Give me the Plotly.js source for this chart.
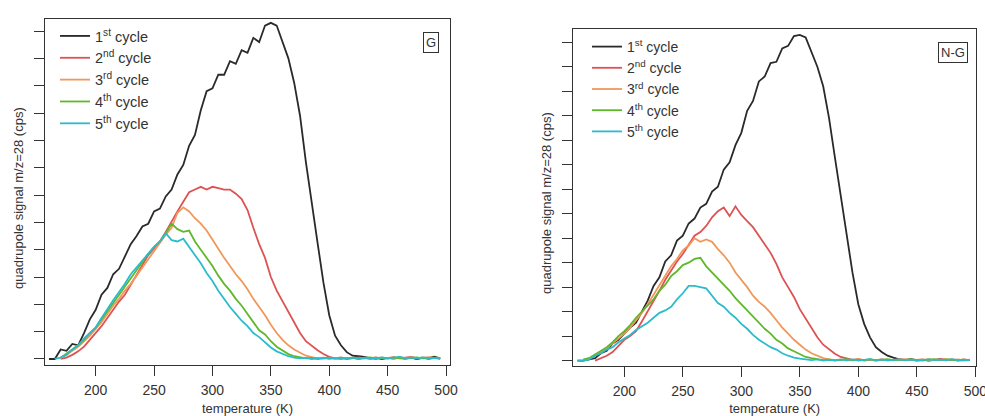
<!DOCTYPE html>
<html>
<head>
<meta charset="utf-8">
<script src="https://cdn.plot.ly/plotly-3.0.1.min.js"></script>
<style>html,body{margin:0;padding:0;background:#fff;}#chart{width:985px;height:416px;}</style>
</head>
<body>
<div id="chart"></div>
<script>
// Temperature grid (K)
const temperature = [160,165,170,175,180,185,190,195,200,205,210,215,220,225,230,235,240,245,250,255,260,265,270,275,280,285,290,295,300,305,310,315,320,325,330,335,340,345,350,355,360,365,370,375,380,385,390,395,400,405,410,415,420,425,430,435,440,445,450,455,460,465,470,475,480,485,490,495];

const cycleNames = ["1<sup>st</sup> cycle","2<sup>nd</sup> cycle","3<sup>rd</sup> cycle","4<sup>th</sup> cycle","5<sup>th</sup> cycle"];
const xTitle = "temperature (K)";
const yTitle = "quadrupole signal m/z=28 (cps)";
const panelLabels = ["G","N-G"];

// Panel G (signal in tick units)
const G_cycle1 = [0.0,0.0,0.35,0.3,0.55,0.5,0.95,1.45,1.8,2.35,2.6,3.1,3.3,3.75,4.2,4.5,4.85,4.95,5.4,5.5,5.95,6.2,6.75,7.1,7.8,8.2,9.1,9.8,9.9,10.4,10.4,10.9,10.8,11.3,11.2,11.75,11.6,12.2,12.3,12.2,11.6,11.0,10.1,8.9,7.2,5.8,4.25,2.8,1.6,0.85,0.5,0.25,0.12,0.1,0.08,0.03,0.05,0.0,0.04,0.02,0.06,0.03,0.05,0.0,0.04,0.03,0.08,0.02];
const G_cycle2 = [null,null,0.0,0.05,0.15,0.28,0.45,0.7,0.95,1.2,1.5,1.8,2.1,2.35,2.7,3.05,3.4,3.8,4.05,4.3,4.65,5.05,5.4,5.75,6.1,6.2,6.3,6.2,6.3,6.25,6.2,6.2,6.05,5.85,5.45,4.8,4.2,3.7,3.0,2.5,2.1,1.7,1.3,0.95,0.65,0.48,0.32,0.18,0.08,0.02,0.05,0.0,0.03,0.06,0.02,0.04,0.0,0.05,0.03,0.07,0.02,0.04,0.08,0.03,0.05,0.0,0.04,0.02];
const G_cycle3 = [null,null,0.05,0.15,0.3,0.45,0.65,0.85,1.1,1.35,1.65,1.95,2.2,2.5,2.75,3.05,3.35,3.65,3.95,4.25,4.55,4.8,5.35,5.55,5.4,5.15,4.95,4.7,4.35,4.05,3.7,3.4,3.1,2.85,2.55,2.2,1.9,1.6,1.25,0.95,0.7,0.5,0.35,0.22,0.12,0.07,0.02,0.05,0.0,0.03,0.06,0.02,0.04,0.0,0.05,0.03,0.06,0.02,0.04,0.0,0.05,0.03,0.06,0.02,0.04,0.07,0.03,0.01];
const G_cycle4 = [null,null,0.05,0.2,0.35,0.5,0.7,0.95,1.15,1.45,1.75,2.05,2.35,2.65,2.95,3.25,3.55,3.85,4.1,4.3,4.6,4.95,4.75,4.65,4.7,4.3,4.0,3.7,3.4,3.05,2.75,2.5,2.2,1.95,1.65,1.35,1.05,0.9,0.65,0.45,0.3,0.18,0.1,0.05,0.02,0.04,0.0,0.03,0.05,0.01,0.04,0.02,0.05,0.0,0.03,0.06,0.02,0.04,0.01,0.05,0.03,0.0,0.04,0.06,0.02,0.04,0.05,0.01];
const G_cycle5 = [null,0.0,0.05,0.15,0.35,0.5,0.75,0.95,1.15,1.5,1.85,2.15,2.45,2.75,3.1,3.35,3.6,3.85,4.1,4.3,4.6,4.35,4.3,4.4,4.1,3.8,3.5,3.15,2.85,2.5,2.2,1.9,1.65,1.4,1.2,0.95,0.8,0.6,0.42,0.28,0.18,0.1,0.05,0.02,0.04,0.0,0.03,0.01,0.04,0.02,0.0,0.03,0.05,0.02,0.04,0.0,0.03,0.06,0.02,0.04,0.08,0.03,0.05,0.02,0.06,0.03,0.04,0.01];

// Panel N-G
const NG_cycle1 = [0.0,0.0,0.05,0.1,0.3,0.4,0.7,0.85,1.1,1.35,1.55,2.0,2.45,3.05,3.4,4.05,4.3,4.9,5.1,5.6,5.8,6.25,6.4,6.9,7.1,7.8,8.1,8.8,9.3,10.2,10.6,11.4,11.6,12.15,12.2,12.75,12.85,13.25,13.3,13.2,12.6,12.0,11.2,9.9,8.3,6.7,5.0,3.6,2.3,1.5,0.95,0.55,0.35,0.2,0.12,0.05,0.03,0.06,0.02,0.04,0.0,0.03,0.05,0.02,0.04,0.01,0.03,0.02];
const NG_cycle2 = [null,null,null,0.0,0.1,0.2,0.35,0.6,0.85,1.0,1.2,1.6,2.0,2.4,2.85,3.3,3.7,4.05,4.35,4.7,5.1,5.25,5.5,5.85,6.1,6.25,5.9,6.3,5.95,5.7,5.45,5.1,4.75,4.4,3.95,3.4,3.0,2.6,2.1,1.7,1.3,0.95,0.65,0.45,0.28,0.15,0.08,0.03,0.06,0.0,0.04,0.02,0.05,0.01,0.03,0.06,0.02,0.04,0.0,0.03,0.05,0.02,0.07,0.03,0.04,0.01,0.05,0.02];
const NG_cycle3 = [null,0.0,0.1,0.25,0.35,0.5,0.7,0.9,1.1,1.35,1.65,1.95,2.3,2.7,3.1,3.45,3.85,4.15,4.5,4.7,5.0,4.85,4.95,4.85,4.55,4.3,4.0,3.6,3.3,3.0,2.65,2.4,2.2,1.95,1.65,1.35,1.1,0.85,0.65,0.45,0.3,0.2,0.1,0.05,0.02,0.05,0.0,0.03,0.06,0.02,0.04,0.0,0.05,0.03,0.01,0.04,0.06,0.02,0.03,0.05,0.01,0.04,0.02,0.06,0.03,0.05,0.02,0.04];
const NG_cycle4 = [null,0.05,0.1,0.25,0.4,0.55,0.75,1.0,1.2,1.45,1.75,2.0,2.25,2.5,2.85,3.1,3.45,3.65,3.9,4.0,4.15,4.2,3.85,3.6,3.35,3.1,2.85,2.55,2.3,2.05,1.8,1.55,1.3,1.1,0.85,0.7,0.5,0.38,0.25,0.15,0.1,0.05,0.02,0.05,0.0,0.03,0.06,0.01,0.04,0.02,0.05,0.0,0.03,0.06,0.02,0.04,0.01,0.05,0.03,0.0,0.04,0.06,0.02,0.05,0.03,0.01,0.04,0.02];
const NG_cycle5 = [0.0,0.0,0.05,0.2,0.3,0.45,0.55,0.75,0.9,1.05,1.25,1.4,1.55,1.75,1.95,2.05,2.2,2.5,2.75,3.05,3.05,3.0,2.95,2.65,2.35,2.2,1.95,1.75,1.5,1.3,1.05,0.85,0.7,0.55,0.45,0.3,0.2,0.12,0.08,0.04,0.02,0.05,0.0,0.03,0.01,0.04,0.02,0.05,0.0,0.03,0.06,0.02,0.04,0.01,0.03,0.05,0.02,0.04,0.0,0.03,0.05,0.02,0.04,0.01,0.06,0.02,0.03,0.01];

const cycleColors = ["#2a2a2a","#dd5252","#f0975c","#5fb82c","#2bbccc"];

const gSeries = [G_cycle1,G_cycle2,G_cycle3,G_cycle4,G_cycle5];
const ngSeries = [NG_cycle1,NG_cycle2,NG_cycle3,NG_cycle4,NG_cycle5];

const traces = [];
gSeries.forEach((ys,i)=>{
  traces.push({x:temperature,y:ys,type:'scatter',mode:'lines',name:cycleNames[i],
    line:{color:cycleColors[i],width:1.8},xaxis:'x',yaxis:'y',legend:'legend'});
});
ngSeries.forEach((ys,i)=>{
  traces.push({x:temperature,y:ys,type:'scatter',mode:'lines',name:cycleNames[i],
    line:{color:cycleColors[i],width:1.8},xaxis:'x2',yaxis:'y2',legend:'legend2'});
});

const W=985,H=416;
const fontFam = '"Liberation Sans", Arial, sans-serif';
const axCommon = {showline:true,mirror:true,linecolor:'#333',linewidth:1,showgrid:false,zeroline:false,
  ticks:'outside',tickcolor:'#333',tickwidth:1,tickfont:{family:fontFam,size:14,color:'#333'},ticklabeloverflow:'allow'};

const layout = {
  width:W,height:H,margin:{l:0,r:0,t:0,b:0},paper_bgcolor:'#fff',plot_bgcolor:'#fff',
  font:{family:fontFam,color:'#333'},
  xaxis:Object.assign({},axCommon,{domain:[45/W,450/W],range:[156.6,503.4],tick0:0,dtick:50,ticklen:10,ticklabelstandoff:2,
    title:{text:xTitle,font:{size:13,color:'#333'},standoff:8},anchor:'y'}),
  yaxis:Object.assign({},axCommon,{domain:[1-365/H,1-19/H],range:[-0.22,12.44],tick0:0,dtick:1,ticklen:10,showticklabels:false,anchor:'x'}),
  xaxis2:Object.assign({},axCommon,{domain:[573.3/W,976/W],range:[156.4,500.6],tick0:0,dtick:50,ticklen:10,ticklabelstandoff:2,
    title:{text:xTitle,font:{size:13,color:'#333'},standoff:8},anchor:'y2'}),
  yaxis2:Object.assign({},axCommon,{domain:[1-366/H,1-29/H],range:[-0.22,13.54],tick0:0,dtick:1,ticklen:10,showticklabels:false,anchor:'x2'}),
  legend:{x:55/W,y:1-20/H,xanchor:'left',yanchor:'top',bgcolor:'rgba(0,0,0,0)',font:{family:fontFam,size:14.5,color:'#333'},tracegroupgap:0},
  legend2:{x:587/W,y:1-31/H,xanchor:'left',yanchor:'top',bgcolor:'rgba(0,0,0,0)',font:{family:fontFam,size:14,color:'#333'},tracegroupgap:0},
  showlegend:true,
  annotations:[
    {text:yTitle,xref:'paper',yref:'paper',x:18/W,y:1-198/H,xanchor:'center',yanchor:'middle',textangle:-90,showarrow:false,
      font:{family:fontFam,size:13,color:'#333'}},
    {text:yTitle,xref:'paper',yref:'paper',x:547/W,y:1-203/H,xanchor:'center',yanchor:'middle',textangle:-90,showarrow:false,
      font:{family:fontFam,size:13,color:'#333'}},
    {text:panelLabels[0],xref:'paper',yref:'paper',x:431/W,y:1-43/H,xanchor:'center',yanchor:'middle',showarrow:false,
      font:{family:fontFam,size:13,color:'#333'},bordercolor:'#333',borderwidth:1,borderpad:2,bgcolor:'#fff'},
    {text:panelLabels[1],xref:'paper',yref:'paper',x:953/W,y:1-52.5/H,xanchor:'center',yanchor:'middle',showarrow:false,
      font:{family:fontFam,size:13,color:'#333'},bordercolor:'#333',borderwidth:1,borderpad:2,bgcolor:'#fff'}
  ]
};

Plotly.newPlot('chart',traces,layout,{displayModeBar:false,staticPlot:true});
</script>
</body>
</html>
